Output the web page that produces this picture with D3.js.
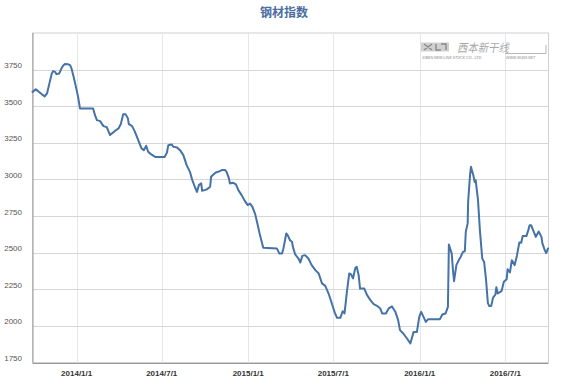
<!DOCTYPE html>
<html><head><meta charset="utf-8">
<script src="https://cdn.jsdelivr.net/npm/d3@7"></script>
<style>body{margin:0;background:#fff}svg{display:block;font-family:"Liberation Sans",Arial,sans-serif}</style>
</head><body><svg id="c" width="572" height="385"></svg>
<script>
const title = "钢材指数";
const dates = ["2013-09-29","2013-10-06","2013-10-11","2013-10-19","2013-10-25","2013-10-30","2013-11-04","2013-11-09","2013-11-12","2013-11-16","2013-11-19","2013-11-25","2013-11-29","2013-12-03","2013-12-07","2013-12-14","2013-12-18","2013-12-21","2013-12-26","2014-01-01","2014-01-04","2014-01-08","2014-02-05","2014-02-09","2014-02-13","2014-02-20","2014-02-23","2014-02-27","2014-03-06","2014-03-13","2014-03-24","2014-03-31","2014-04-05","2014-04-10","2014-04-15","2014-04-20","2014-04-22","2014-04-29","2014-05-05","2014-05-12","2014-05-19","2014-05-24","2014-05-29","2014-06-02","2014-06-08","2014-06-17","2014-07-07","2014-07-12","2014-07-15","2014-07-22","2014-07-26","2014-08-02","2014-08-09","2014-08-16","2014-08-23","2014-08-30","2014-09-04","2014-09-10","2014-09-14","2014-09-18","2014-09-23","2014-09-25","2014-10-05","2014-10-12","2014-10-14","2014-10-19","2014-10-24","2014-10-29","2014-11-06","2014-11-13","2014-11-16","2014-11-21","2014-11-23","2014-11-30","2014-12-06","2014-12-11","2014-12-18","2014-12-25","2014-12-31","2015-01-05","2015-01-10","2015-01-16","2015-01-21","2015-01-26","2015-02-02","2015-03-03","2015-03-08","2015-03-14","2015-03-17","2015-03-21","2015-03-23","2015-03-26","2015-03-31","2015-04-04","2015-04-07","2015-04-11","2015-04-18","2015-04-22","2015-04-26","2015-05-02","2015-05-09","2015-05-16","2015-05-24","2015-05-31","2015-06-07","2015-06-14","2015-06-21","2015-06-28","2015-07-04","2015-07-09","2015-07-16","2015-07-21","2015-07-25","2015-07-30","2015-08-04","2015-08-08","2015-08-12","2015-08-17","2015-08-20","2015-08-24","2015-08-27","2015-09-05","2015-09-11","2015-09-18","2015-09-25","2015-10-02","2015-10-09","2015-10-13","2015-10-21","2015-10-27","2015-11-03","2015-11-10","2015-11-16","2015-11-20","2015-11-27","2015-12-05","2015-12-12","2015-12-19","2015-12-26","2015-12-31","2016-01-04","2016-01-09","2016-01-14","2016-01-19","2016-02-13","2016-02-18","2016-02-25","2016-03-01","2016-03-03","2016-03-09","2016-03-12","2016-03-14","2016-03-19","2016-03-24","2016-03-28","2016-04-02","2016-04-06","2016-04-08","2016-04-12","2016-04-13","2016-04-17","2016-04-19","2016-04-24","2016-04-27","2016-04-29","2016-05-04","2016-05-08","2016-05-13","2016-05-17","2016-05-21","2016-05-25","2016-05-28","2016-06-01","2016-06-05","2016-06-10","2016-06-12","2016-06-15","2016-06-23","2016-06-28","2016-07-04","2016-07-06","2016-07-11","2016-07-15","2016-07-21","2016-07-26","2016-07-31","2016-08-04","2016-08-07","2016-08-15","2016-08-19","2016-08-22","2016-08-25","2016-08-31","2016-09-04","2016-09-10","2016-09-16","2016-09-18","2016-09-23","2016-09-26","2016-09-30"];
const values = [3598,3615,3603,3581,3567,3588,3656,3724,3740,3735,3719,3724,3754,3776,3788,3786,3781,3758,3694,3610,3564,3485,3485,3439,3405,3398,3383,3364,3357,3303,3333,3348,3378,3446,3446,3417,3378,3364,3325,3269,3212,3200,3230,3189,3173,3154,3154,3182,3234,3239,3223,3219,3200,3166,3098,3052,2995,2945,2915,2961,2973,2922,2932,2950,3018,3034,3048,3052,3064,3064,3052,3007,2973,2977,2966,2927,2893,2852,2825,2836,2813,2761,2693,2620,2533,2529,2495,2495,2529,2597,2631,2620,2585,2574,2529,2488,2460,2433,2478,2483,2460,2415,2381,2358,2290,2273,2221,2153,2092,2055,2055,2100,2085,2232,2358,2351,2324,2396,2403,2346,2255,2255,2210,2176,2148,2137,2119,2085,2085,2119,2133,2097,2039,1971,1948,1914,1880,1959,1959,2061,2096,2061,2027,2046,2046,2078,2085,2130,2555,2495,2369,2305,2415,2449,2471,2505,2510,2642,2700,2847,3029,3086,3029,2982,2995,2859,2654,2460,2437,2319,2155,2135,2135,2193,2213,2264,2221,2237,2301,2319,2387,2365,2449,2415,2483,2570,2568,2613,2613,2654,2688,2688,2640,2608,2645,2608,2563,2517,2497,2529];
const yTicks = [1750,2000,2250,2500,2750,3000,3250,3500,3750];
const xTicks = ["2014-01-01","2014-07-01","2015-01-01","2015-07-01","2016-01-01","2016-07-01"];
const xTickLabels = ["2014/1/1","2014/7/1","2015/1/1","2015/7/1","2016/1/1","2016/7/1"];
const xDomain = ["2013-09-29","2016-10-01"];
const yDomain = [1750,4000];

const parse = d3.timeParse("%Y-%m-%d");
const svg = d3.select("#c");
const W = 572, H = 385;
const m = {left:32.5, top:33, right:23.5, bottom:22.5};
const x = d3.scaleTime().domain(xDomain.map(parse)).range([m.left, W - m.right]);
const y = d3.scaleLinear().domain(yDomain).range([H - m.bottom, m.top]);

// title
svg.append("text").attr("x", 284).attr("y", 17).attr("text-anchor","middle")
  .style("font-family",'"Noto Sans CJK SC",sans-serif').style("font-size","12px").style("font-weight","bold")
  .attr("fill","#4a6d9e").text(title);

// plot border
svg.append("rect").attr("x", m.left).attr("y", m.top)
  .attr("width", W - m.left - m.right).attr("height", H - m.top - m.bottom)
  .attr("fill","none").attr("stroke","#d0d0d0").attr("stroke-width",1);

// vertical grid
const xt = xTicks.map(parse);
svg.append("g").selectAll("line").data(xt).join("line")
  .attr("x1", d => Math.round(x(d)) + 0.5).attr("x2", d => Math.round(x(d)) + 0.5)
  .attr("y1", m.top).attr("y2", H - m.bottom)
  .attr("stroke","#e6e6e6").attr("stroke-width",1);

// horizontal grid
svg.append("g").selectAll("line").data(yTicks.slice(1)).join("line")
  .attr("x1", m.left).attr("x2", W - m.right)
  .attr("y1", d => Math.round(y(d)) + 0.5).attr("y2", d => Math.round(y(d)) + 0.5)
  .attr("stroke","#d6d6d6").attr("stroke-width",1);

// watermark (logo graphic)
const wm = svg.append("g");
wm.append("rect").attr("x",421).attr("y",42.5).attr("width",28).attr("height",9).attr("fill","#d0d0d0");
wm.append("path").attr("d","M424,44 L432,50 M432,44 L424,50 M436,44 L436,50 L441,50 M441,44 L446,44 L446,50")
  .attr("fill","none").attr("stroke","#8a8a8a").attr("stroke-width",1.4);
wm.append("text").attr("x",457).attr("y",52).attr("transform","translate(457,0) scale(0.9,1) translate(-457,0)")
  .style("font-family",'"Noto Sans CJK SC",sans-serif').style("font-size","11.5px").style("font-style","italic").attr("fill","#a8a8a8").text("西本新干线");
wm.append("path").attr("d","M505,53.5 L546,53.5 L546,45").attr("fill","none").attr("stroke","#b8b8b8").attr("stroke-width",1);
wm.append("text").attr("x",422).attr("y",58.5).style("font-size","3.6px").style("font-weight","bold").style("font-style","italic").attr("fill","#b0b0b0").text("XIBEN NEW LINE STOCK CO., LTD.");
wm.append("text").attr("x",506).attr("y",58.5).style("font-size","3.6px").style("font-weight","bold").style("font-style","italic").attr("fill","#b0b0b0").text("WWW.96369.NET");

// axes lines
svg.append("line").attr("x1", m.left+0.5).attr("x2", m.left+0.5).attr("y1", m.top).attr("y2", H - m.bottom)
  .attr("stroke","#999").attr("stroke-width",1);
svg.append("line").attr("x1", m.left).attr("x2", W - m.right).attr("y1", Math.round(H - m.bottom)+0.5).attr("y2", Math.round(H - m.bottom)+0.5)
  .attr("stroke","#999").attr("stroke-width",1);

// y labels
svg.append("g").selectAll("text").data(yTicks).join("text")
  .attr("x", 22).attr("y", d => y(d) - 1.5).attr("text-anchor","end")
  .style("font-size","8px").attr("fill","#555").text(d => d);

// x labels
svg.append("g").selectAll("text").data(xt).join("text")
  .attr("x", d => x(d)).attr("y", 376).attr("text-anchor","middle")
  .style("font-size","8px").style("font-weight","bold").attr("fill","#333")
  .text((d,i) => xTickLabels[i]);

// line
const pts = dates.map((d,i) => [parse(d), values[i]]);
svg.append("path").datum(pts)
  .attr("d", d3.line().x(d => x(d[0])).y(d => y(d[1])))
  .attr("fill","none").attr("stroke","#4572A7").attr("stroke-width",2)
  .attr("stroke-linejoin","round").attr("stroke-linecap","round");
</script></body></html>
